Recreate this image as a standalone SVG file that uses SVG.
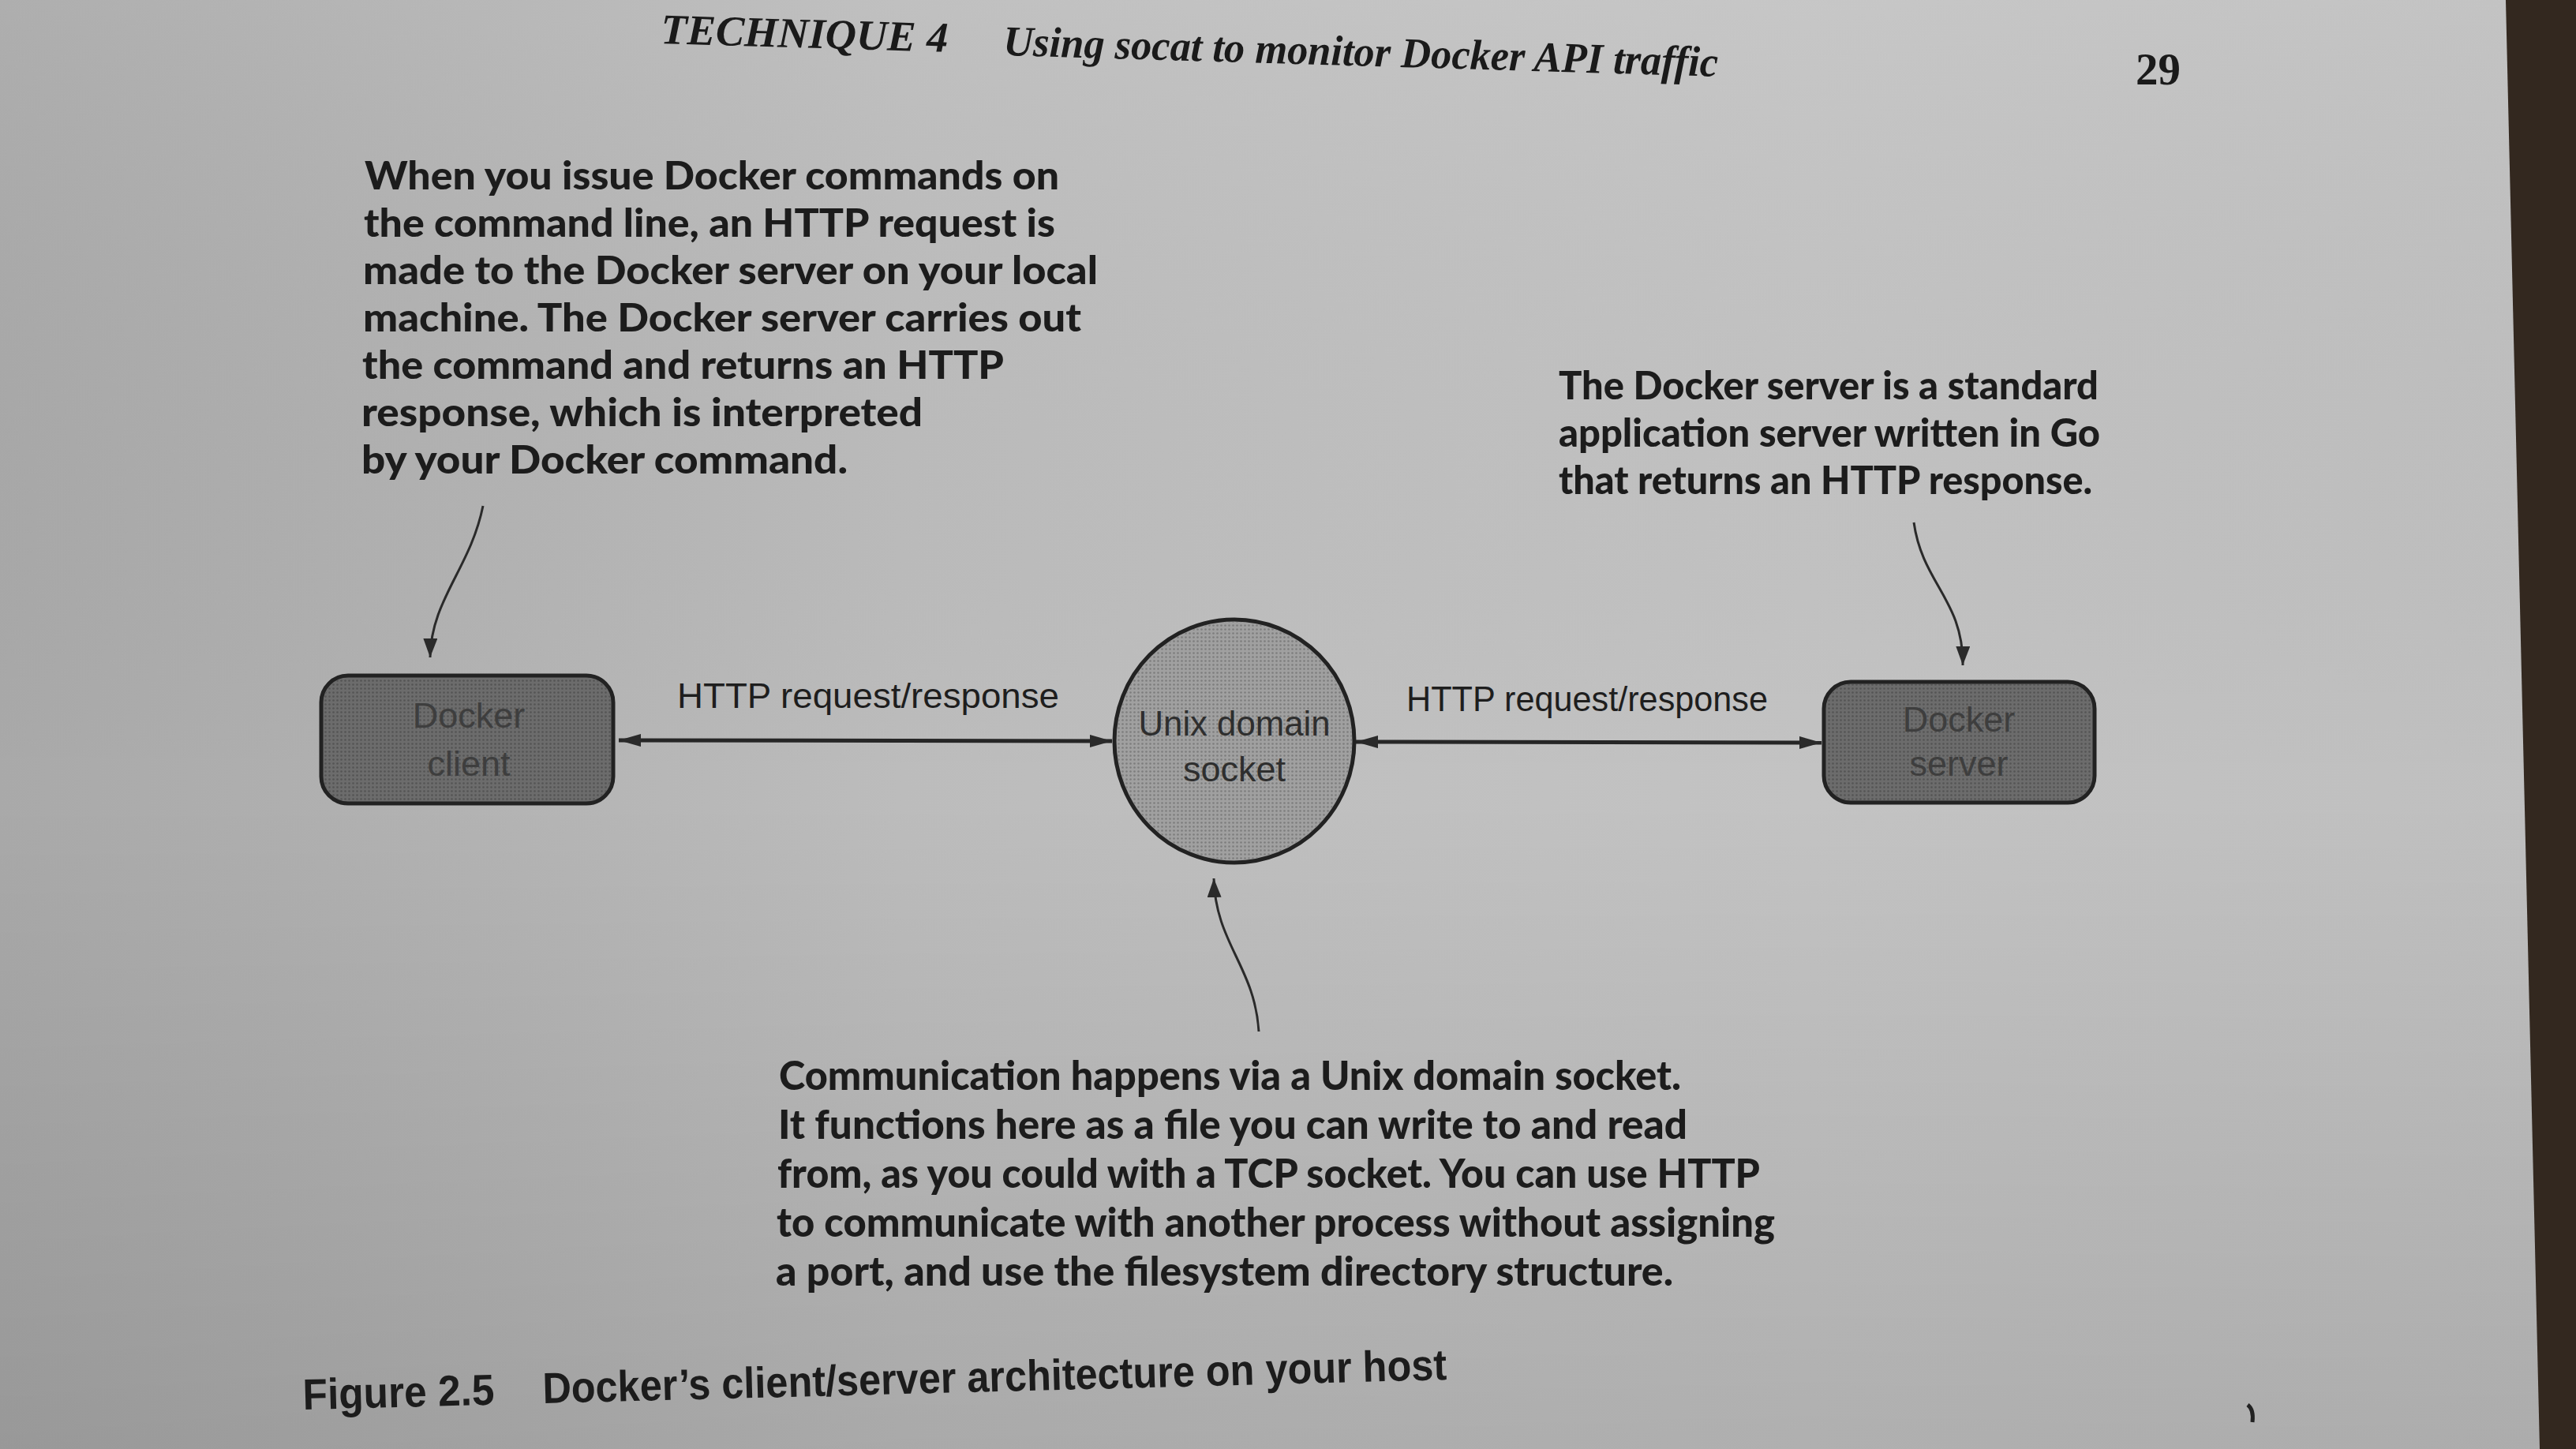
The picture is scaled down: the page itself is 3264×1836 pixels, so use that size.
<svg xmlns="http://www.w3.org/2000/svg" width="3264" height="1836" viewBox="0 0 3264 1836">
  <defs>
    <linearGradient id="pageH" x1="0" y1="0" x2="1" y2="0">
      <stop offset="0" stop-color="#a9a9a9"/>
      <stop offset="0.35" stop-color="#bcbcbc"/>
      <stop offset="0.7" stop-color="#c3c3c3"/>
      <stop offset="1" stop-color="#bfbfbf"/>
    </linearGradient>
    <linearGradient id="pageV" x1="0" y1="0" x2="0" y2="1">
      <stop offset="0" stop-color="#ffffff" stop-opacity="0.06"/>
      <stop offset="0.55" stop-color="#000000" stop-opacity="0"/>
      <stop offset="1" stop-color="#000000" stop-opacity="0.1"/>
    </linearGradient>
    <pattern id="dots" width="5" height="5" patternUnits="userSpaceOnUse">
      <circle cx="2.5" cy="2.5" r="1.3" fill="#000000" fill-opacity="0.22"/>
    </pattern>
    <marker id="arrowH" markerUnits="userSpaceOnUse" markerWidth="30" markerHeight="18" refX="28" refY="8" orient="auto-start-reverse">
      <path d="M0,0 L28,8 L0,16 z" fill="#2a2a2a"/>
    </marker>
    <marker id="arrowC" markerUnits="userSpaceOnUse" markerWidth="26" markerHeight="20" refX="24" refY="9" orient="auto">
      <path d="M0,0 L24,9 L0,18 z" fill="#2a2a2a"/>
    </marker>
    <style>
      .note { font-family: Lato, "Open Sans", "Liberation Sans", sans-serif; font-weight: 900; fill: #1c1c1c; }
      .hdr { font-family: "Liberation Serif", "DejaVu Serif", serif; font-style: italic; font-weight: 700; fill: #1a1a1a; font-size: 54px; }
      .num { font-family: "Liberation Serif", "DejaVu Serif", serif; font-weight: 700; fill: #1a1a1a; font-size: 56px; }
      .cap { font-family: "Liberation Sans", Arial, sans-serif; font-weight: 700; fill: #1c1c1c; font-size: 55px; }
      .lbl { font-family: "Liberation Sans", Arial, sans-serif; fill: #1e1e1e; font-size: 44px; }
      .ntxt { font-family: "Liberation Sans", Arial, sans-serif; font-size: 45px; text-anchor: middle; }
      .box { stroke: #222222; stroke-width: 5; }
      .conn { stroke: #262626; stroke-width: 5; fill: none; }
      .curve { stroke: #2a2a2a; stroke-width: 3; fill: none; }
    </style>
  </defs>

  <!-- page background -->
  <rect x="0" y="0" width="3264" height="1836" fill="url(#pageH)"/>
  <rect x="0" y="0" width="3264" height="1836" fill="url(#pageV)"/>
  <polygon points="3175,0 3218,1836 3264,1836 3264,0" fill="#33281f"/>
  <path d="M2848,1780 q8,6 6,22" stroke="#222" stroke-width="5" fill="none"/>

  <!-- running header -->
  <g id="header">
    <text class="hdr" x="837" y="55" transform="rotate(1.7 837 55)" textLength="364" lengthAdjust="spacingAndGlyphs">TECHNIQUE 4</text>
    <text class="hdr" x="1271" y="70" transform="rotate(1.7 1271 70)" textLength="906" lengthAdjust="spacingAndGlyphs">Using socat to monitor Docker API traffic</text>
    <text class="num" x="2706" y="107" textLength="57" lengthAdjust="spacingAndGlyphs">29</text>
  </g>

  <!-- annotation: client -->
  <g id="note-client">
    <text class="note" font-size="49" x="462" y="240" textLength="880" lengthAdjust="spacingAndGlyphs">When you issue Docker commands on</text>
    <text class="note" font-size="49" x="461" y="300" textLength="876" lengthAdjust="spacingAndGlyphs">the command line, an HTTP request is</text>
    <text class="note" font-size="49" x="460" y="360" textLength="931" lengthAdjust="spacingAndGlyphs">made to the Docker server on your local</text>
    <text class="note" font-size="49" x="460" y="420" textLength="910" lengthAdjust="spacingAndGlyphs">machine. The Docker server carries out</text>
    <text class="note" font-size="49" x="459" y="480" textLength="813" lengthAdjust="spacingAndGlyphs">the command and returns an HTTP</text>
    <text class="note" font-size="49" x="458" y="540" textLength="711" lengthAdjust="spacingAndGlyphs">response, which is interpreted</text>
    <text class="note" font-size="49" x="458" y="600" textLength="616" lengthAdjust="spacingAndGlyphs">by your Docker command.</text>
  </g>

  <!-- annotation: server -->
  <g id="note-server">
    <text class="note" font-size="49" x="1975" y="506" textLength="684" lengthAdjust="spacingAndGlyphs">The Docker server is a standard</text>
    <text class="note" font-size="49" x="1975" y="566" textLength="686" lengthAdjust="spacingAndGlyphs">application server written in Go</text>
    <text class="note" font-size="49" x="1975" y="626" textLength="676" lengthAdjust="spacingAndGlyphs">that returns an HTTP response.</text>
  </g>

  <!-- annotation: socket -->
  <g id="note-socket">
    <text class="note" font-size="51" x="987" y="1381" textLength="1143" lengthAdjust="spacingAndGlyphs">Communication happens via a Unix domain socket.</text>
    <text class="note" font-size="51" x="986" y="1443" textLength="1152" lengthAdjust="spacingAndGlyphs">It functions here as a file you can write to and read</text>
    <text class="note" font-size="51" x="985" y="1505" textLength="1245" lengthAdjust="spacingAndGlyphs">from, as you could with a TCP socket. You can use HTTP</text>
    <text class="note" font-size="51" x="984" y="1567" textLength="1265" lengthAdjust="spacingAndGlyphs">to communicate with another process without assigning</text>
    <text class="note" font-size="51" x="983" y="1629" textLength="1137" lengthAdjust="spacingAndGlyphs">a port, and use the filesystem directory structure.</text>
  </g>

  <!-- nodes -->
  <g id="node-client">
    <rect class="box" x="407" y="856" width="370" height="162" rx="34" fill="#6c6c6c"/>
    <rect x="410" y="859" width="364" height="156" rx="31" fill="url(#dots)"/>
    <text class="ntxt" x="594" y="922" fill="#3e3e3e">Docker</text>
    <text class="ntxt" x="594" y="983" fill="#3e3e3e">client</text>
  </g>

  <g id="node-socket">
    <ellipse class="box" cx="1564" cy="939" rx="152" ry="154" fill="#a0a0a0"/>
    <ellipse cx="1564" cy="939" rx="149" ry="151" fill="url(#dots)"/>
    <text class="ntxt" x="1564" y="932" fill="#2e2e2e" font-size="44" textLength="243" lengthAdjust="spacingAndGlyphs">Unix domain</text>
    <text class="ntxt" x="1564" y="990" fill="#2e2e2e" font-size="44">socket</text>
  </g>

  <g id="node-server">
    <rect class="box" x="2311" y="864" width="343" height="153" rx="34" fill="#6c6c6c"/>
    <rect x="2314" y="867" width="337" height="147" rx="31" fill="url(#dots)"/>
    <text class="ntxt" x="2482" y="927" fill="#3e3e3e">Docker</text>
    <text class="ntxt" x="2482" y="983" fill="#3e3e3e">server</text>
  </g>

  <!-- connectors -->
  <g id="connectors">
    <line class="conn" x1="784" y1="938" x2="1409" y2="939" marker-start="url(#arrowH)" marker-end="url(#arrowH)"/>
    <text class="lbl" x="858" y="897" textLength="484" lengthAdjust="spacingAndGlyphs">HTTP request/response</text>
    <line class="conn" x1="1718" y1="940" x2="2308" y2="941" marker-start="url(#arrowH)" marker-end="url(#arrowH)"/>
    <text class="lbl" x="1782" y="901" textLength="458" lengthAdjust="spacingAndGlyphs">HTTP request/response</text>
    <path class="curve" d="M612,641 C596,720 546,760 545,833" marker-end="url(#arrowC)"/>
    <path class="curve" d="M2425,662 C2436,740 2488,760 2487,843" marker-end="url(#arrowC)"/>
    <path class="curve" d="M1595,1307 C1590,1225 1540,1195 1538,1113" marker-end="url(#arrowC)"/>
  </g>

  <!-- caption -->
  <g id="caption" transform="rotate(-1.5 384 1786)">
    <text class="cap" x="384" y="1786" textLength="243" lengthAdjust="spacingAndGlyphs">Figure 2.5</text>
    <text class="cap" x="688" y="1786" textLength="1146" lengthAdjust="spacingAndGlyphs">Docker’s client/server architecture on your host</text>
  </g>
</svg>
